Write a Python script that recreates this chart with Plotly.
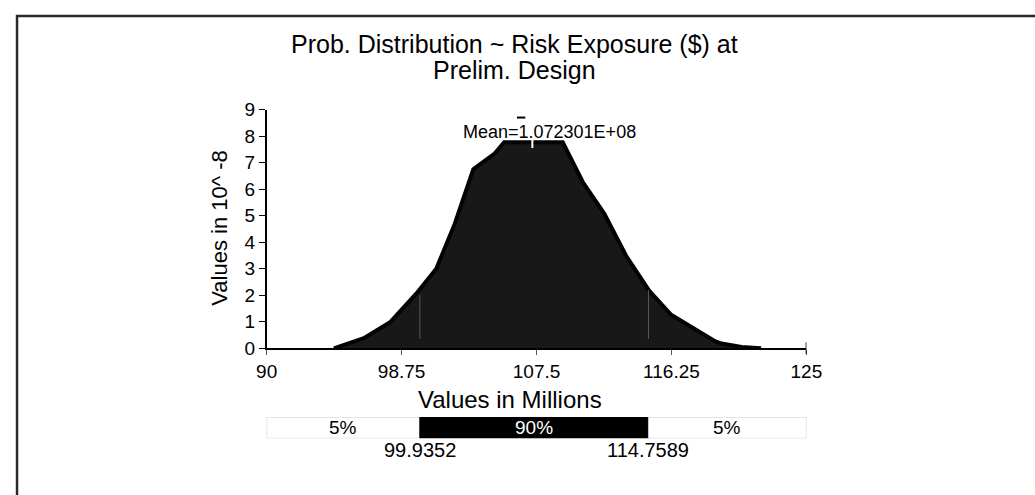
import plotly.graph_objects as go

W, H = 1035, 495
FONT = "Liberation Sans, Arial, sans-serif"

# ---- data ----
curve_x = [94.36, 96.3, 98.0, 99.7, 101.0, 102.2, 103.4, 104.8, 105.4, 107.23, 109.2,
           110.5, 111.9, 113.3, 114.8, 116.2, 117.7, 119.1, 119.5, 120.8, 122.06]
curve_y = [0.0, 0.38, 0.98, 2.06, 3.0, 4.7, 6.75, 7.35, 7.77, 7.77, 7.77,
           6.27, 5.07, 3.5, 2.18, 1.28, 0.74, 0.26, 0.18, 0.05, 0.0]

x_ticks = [90, 98.75, 107.5, 116.25, 125]
x_tick_labels = ["90", "98.75", "107.5", "116.25", "125"]
y_ticks = list(range(0, 10))

mean_value = 107.2301          # millions
mean_label = "Mean=1.072301E+08"
pct_bounds = [90, 99.9352, 114.7589, 125]
pct_labels = ["5%", "90%", "5%"]
bound_labels = ["99.9352", "114.7589"]
bound_heights = [2.0, 2.2]

title_lines = ["Prob. Distribution ~ Risk Exposure ($) at", "Prelim. Design"]
x_title = "Values in Millions"
y_title = "Values in 10^ -8"


def px(x):
    return x / W


def py(y):
    return 1 - y / H


fig = go.Figure()

# density curve
fig.add_trace(go.Scatter(
    x=curve_x, y=curve_y, mode="lines", fill="tozeroy",
    fillcolor="#181818", line=dict(color="#030303", width=4),
    hoverinfo="skip", showlegend=False, xaxis="x", yaxis="y"))

# faint percentile lines inside the fill
for b, h in zip(pct_bounds[1:3], bound_heights):
    fig.add_trace(go.Scatter(
        x=[b, b], y=[0.35, h], mode="lines", line=dict(color="#5a5a5a", width=1),
        hoverinfo="skip", showlegend=False))

# triangles at the percentile bounds
fig.add_trace(go.Scatter(
    x=pct_bounds[1:3], y=[9.12, 9.12], mode="markers",
    marker=dict(symbol="triangle-down", size=9, color="black"),
    cliponaxis=False, hoverinfo="skip", showlegend=False))

# small dash near mean
fig.add_trace(go.Scatter(
    x=[106.5], y=[8.7], mode="markers",
    marker=dict(symbol="line-ew", size=6, line=dict(color="black", width=2)),
    cliponaxis=False, hoverinfo="skip", showlegend=False))

# percentile bar
bar_colors = ["white", "black", "white"]
bar_lines = ["#c8c8c8", "black", "#c8c8c8"]
for i in range(3):
    fig.add_trace(go.Bar(
        x=[pct_bounds[i + 1] - pct_bounds[i]], base=[pct_bounds[i]], y=[0],
        orientation="h", width=[1], marker=dict(color=bar_colors[i],
                                                line=dict(color=bar_lines[i], width=1)),
        hoverinfo="skip", showlegend=False, xaxis="x2", yaxis="y2"))

xdom = [px(262.5), px(816.7)]
fig.update_layout(
    autosize=True, margin=dict(l=0, r=0, t=0, b=0, pad=0),
    paper_bgcolor="white", plot_bgcolor="rgba(0,0,0,0)",
    barmode="overlay",
    font=dict(family=FONT, color="black"),
    xaxis=dict(domain=xdom, range=[90, 125], tickvals=x_ticks, ticktext=x_tick_labels,
               showline=True, linecolor="black", linewidth=1.5, ticks="outside",
               ticklen=5, tickwidth=1, tickcolor="#555", showgrid=False, zeroline=False,
               tickfont=dict(size=19, family=FONT), anchor="y", fixedrange=True),
    yaxis=dict(domain=[py(353.3), py(104)], range=[0, 9], tickvals=y_ticks,
               showline=True, linecolor="black", linewidth=1.5, ticks="outside",
               ticklen=6, tickwidth=1.2, tickcolor="black", showgrid=False, zeroline=False,
               tickfont=dict(size=19, family=FONT), anchor="x", fixedrange=True),
    xaxis2=dict(domain=xdom, range=[90, 125], visible=False, anchor="y2", fixedrange=True),
    yaxis2=dict(domain=[py(447.3), py(425)], range=[-0.5, 0.5], visible=False,
                anchor="x2", fixedrange=True),
)

ann = []
ann.append(dict(text=title_lines[0], x=px(517), y=py(35), xref="paper", yref="paper",
                showarrow=False, xanchor="center", yanchor="middle",
                font=dict(size=25, family=FONT)))
ann.append(dict(text=title_lines[1], x=px(517), y=py(63), xref="paper", yref="paper",
                showarrow=False, xanchor="center", yanchor="middle",
                font=dict(size=25, family=FONT)))
ann.append(dict(text=y_title, x=px(214), y=py(228), xref="paper", yref="paper",
                showarrow=False, textangle=-90, xanchor="center", yanchor="middle",
                font=dict(size=22, family=FONT)))
ann.append(dict(text=x_title, x=px(512.5), y=py(407), xref="paper", yref="paper",
                showarrow=False, xanchor="center", yanchor="middle",
                font=dict(size=24, family=FONT)))
ann.append(dict(text=mean_label, x=108.35, y=8.17, xref="x", yref="y",
                showarrow=False, xanchor="center", yanchor="middle",
                font=dict(size=18, family=FONT)))
for i in range(3):
    c = (pct_bounds[i] + pct_bounds[i + 1]) / 2
    ann.append(dict(text=pct_labels[i], x=c, y=0, xref="x2", yref="y2",
                    showarrow=False, xanchor="center", yanchor="middle",
                    font=dict(size=19, family=FONT, color="white" if i == 1 else "black")))
for b, lab in zip(pct_bounds[1:3], bound_labels):
    ann.append(dict(text=lab, x=b, y=py(460), xref="x2", yref="paper",
                    showarrow=False, xanchor="center", yanchor="middle",
                    font=dict(size=20, family=FONT)))
fig.update_layout(annotations=ann)

shapes = []
# frame (open to the right and bottom, like the cropped reference)
shapes.append(dict(type="rect", xref="paper", yref="paper", x0=px(6.2), y0=-0.05,
                   x1=1.05, y1=py(6.2), line=dict(color="#2a2a2a", width=2.5)))
# white notch at the mean
shapes.append(dict(type="line", xref="x", yref="y", x0=mean_value, x1=mean_value,
                   y0=7.55, y1=7.85, line=dict(color="white", width=2)))
# end cap at 125
shapes.append(dict(type="line", xref="x", yref="paper", x0=x_ticks[-1], x1=x_ticks[-1],
                   y0=py(359), y1=py(347), line=dict(color="black", width=1.5)))
fig.update_layout(shapes=shapes)

post = ("var d=document.documentElement,b=document.body;"
        "d.style.margin='0';d.style.padding='0';d.style.overflow='hidden';"
        "b.style.margin='0';b.style.padding='0';b.style.overflow='hidden';"
        "window.scrollTo(0,0);")
fig.write_html("out.html", config={"displayModeBar": False, "responsive": True},
               default_width="100vw", default_height="100vh", post_script=post)
